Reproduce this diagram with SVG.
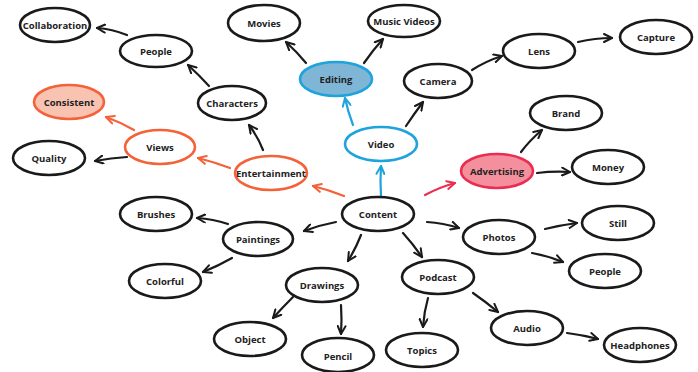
<svg xmlns="http://www.w3.org/2000/svg" width="698" height="372" viewBox="0 0 698 372">
<style>
.n ellipse{fill:#fff;stroke:#1a1a1a;stroke-width:2.6}
.n text{font-family:"Open Sans","Liberation Sans",sans-serif;font-weight:700;font-size:9.5px;fill:#222;text-anchor:middle;dominant-baseline:central}
.c path{fill:none;stroke-width:2.2;stroke-linecap:round}
.k{stroke:#1a1a1a;marker-end:url(#ak)}
.o{stroke:#f4623a;marker-end:url(#ao)}
.b{stroke:#1ea3dc;marker-end:url(#ab)}
.p{stroke:#ec2d52;marker-end:url(#ap)}
</style>
<defs>
<marker id="ak" viewBox="0 0 10 10" refX="9" refY="5" markerWidth="10" markerHeight="10" markerUnits="userSpaceOnUse" orient="auto"><path d="M1,1 L9,5 L1,9" fill="none" stroke="#1a1a1a" stroke-width="2" stroke-linecap="round" stroke-linejoin="round"/></marker>
<marker id="ao" viewBox="0 0 10 10" refX="9" refY="5" markerWidth="10" markerHeight="10" markerUnits="userSpaceOnUse" orient="auto"><path d="M1,1 L9,5 L1,9" fill="none" stroke="#f4623a" stroke-width="2" stroke-linecap="round" stroke-linejoin="round"/></marker>
<marker id="ab" viewBox="0 0 10 10" refX="9" refY="5" markerWidth="10" markerHeight="10" markerUnits="userSpaceOnUse" orient="auto"><path d="M1,1 L9,5 L1,9" fill="none" stroke="#1ea3dc" stroke-width="2" stroke-linecap="round" stroke-linejoin="round"/></marker>
<marker id="ap" viewBox="0 0 10 10" refX="9" refY="5" markerWidth="10" markerHeight="10" markerUnits="userSpaceOnUse" orient="auto"><path d="M1,1 L9,5 L1,9" fill="none" stroke="#ec2d52" stroke-width="2" stroke-linecap="round" stroke-linejoin="round"/></marker>
</defs>
<rect width="698" height="372" fill="#fff"/>
<g id="connectors" class="c">
<path class="k" d="M127,35 Q112,29 97,28"/>
<path class="k" d="M209,86 Q199,75 188,65"/>
<path class="o" d="M134,130 Q120,122 106,117"/>
<path class="k" d="M127,157 Q111,158 95,161"/>
<path class="o" d="M230,168 Q214,162 198,158"/>
<path class="k" d="M263,150 Q258,137 249,125"/>
<path class="k" d="M306,63 Q297,52 286,42"/>
<path class="k" d="M364,63 Q373,50 383,39"/>
<path class="b" d="M353,125 Q348,112 345,98"/>
<path class="k" d="M406,126 Q414,114 423,102"/>
<path class="b" d="M381,196 Q380,181 381,166"/>
<path class="o" d="M344,196 Q329,190 313,186"/>
<path class="p" d="M425,195 Q440,187 455,183"/>
<path class="k" d="M472,70 Q486,61 502,56"/>
<path class="k" d="M578,42 Q595,38 612,38"/>
<path class="k" d="M521,152 Q530,140 542,130"/>
<path class="k" d="M537,173 Q553,171 570,172"/>
<path class="k" d="M336,222 Q320,225 304,231"/>
<path class="k" d="M228,224 Q213,219 197,218"/>
<path class="k" d="M232,258 Q218,266 203,272"/>
<path class="k" d="M361,235 Q356,248 348,261"/>
<path class="k" d="M293,297 Q283,307 273,318"/>
<path class="k" d="M341,305 Q342,320 341,334"/>
<path class="k" d="M427,222 Q443,223 459,228"/>
<path class="k" d="M403,233 Q413,244 422,257"/>
<path class="k" d="M545,229 Q561,225 577,223"/>
<path class="k" d="M532,253 Q548,256 563,262"/>
<path class="k" d="M428,298 Q424,312 423,327"/>
<path class="k" d="M473,293 Q486,302 498,312"/>
<path class="k" d="M567,333 Q583,335 598,339"/>
</g>
<g id="collaboration" class="n"><ellipse cx="55" cy="25" rx="35" ry="17"/><text x="55" y="25">Collaboration</text></g>
<g id="people-top" class="n"><ellipse cx="156" cy="51" rx="36" ry="16"/><text x="156" y="51">People</text></g>
<g id="characters" class="n"><ellipse cx="232" cy="103" rx="34" ry="17"/><text x="232" y="103">Characters</text></g>
<g id="consistent" class="n"><ellipse cx="69" cy="102" rx="35" ry="17" style="fill:#f9c3b2;stroke:#f4623a"/><text x="69" y="102">Consistent</text></g>
<g id="views" class="n"><ellipse cx="160" cy="147" rx="35" ry="17" style="stroke:#f4623a"/><text x="160" y="147">Views</text></g>
<g id="quality" class="n"><ellipse cx="49" cy="158" rx="36" ry="17"/><text x="49" y="158">Quality</text></g>
<g id="movies" class="n"><ellipse cx="264" cy="23" rx="36" ry="18"/><text x="264" y="23">Movies</text></g>
<g id="music-videos" class="n"><ellipse cx="404" cy="21" rx="36" ry="16"/><text x="404" y="21">Music Videos</text></g>
<g id="editing" class="n"><ellipse cx="336" cy="79" rx="36" ry="17" style="fill:#7fb5d5;stroke:#1ea3dc"/><text x="336" y="79">Editing</text></g>
<g id="camera" class="n"><ellipse cx="438" cy="81" rx="34" ry="17"/><text x="438" y="81">Camera</text></g>
<g id="video" class="n"><ellipse cx="381" cy="144" rx="36" ry="17" style="stroke:#1ea3dc"/><text x="381" y="144">Video</text></g>
<g id="entertainment" class="n"><ellipse cx="271" cy="173" rx="36" ry="17" style="stroke:#f4623a"/><text x="271" y="173">Entertainment</text></g>
<g id="lens" class="n"><ellipse cx="539" cy="51" rx="36" ry="17"/><text x="539" y="51">Lens</text></g>
<g id="capture" class="n"><ellipse cx="656" cy="37" rx="36" ry="17"/><text x="656" y="37">Capture</text></g>
<g id="brand" class="n"><ellipse cx="566" cy="113" rx="36" ry="17"/><text x="566" y="113">Brand</text></g>
<g id="advertising" class="n"><ellipse cx="497" cy="171" rx="36" ry="17" style="fill:#f4909e;stroke:#ec2d52"/><text x="497" y="171">Advertising</text></g>
<g id="money" class="n"><ellipse cx="608" cy="167" rx="36" ry="17"/><text x="608" y="167">Money</text></g>
<g id="content" class="n"><ellipse cx="378" cy="214" rx="36" ry="17"/><text x="378" y="214">Content</text></g>
<g id="brushes" class="n"><ellipse cx="156" cy="214" rx="36" ry="17"/><text x="156" y="214">Brushes</text></g>
<g id="paintings" class="n"><ellipse cx="258" cy="239" rx="35" ry="17"/><text x="258" y="239">Paintings</text></g>
<g id="colorful" class="n"><ellipse cx="165" cy="281" rx="36" ry="17"/><text x="165" y="281">Colorful</text></g>
<g id="drawings" class="n"><ellipse cx="322" cy="285" rx="36" ry="17"/><text x="322" y="285">Drawings</text></g>
<g id="object" class="n"><ellipse cx="250" cy="339" rx="36" ry="17"/><text x="250" y="339">Object</text></g>
<g id="pencil" class="n"><ellipse cx="338" cy="355" rx="36" ry="17"/><text x="338" y="356">Pencil</text></g>
<g id="photos" class="n"><ellipse cx="499" cy="237" rx="36" ry="17"/><text x="499" y="237">Photos</text></g>
<g id="still" class="n"><ellipse cx="618" cy="223" rx="36" ry="17"/><text x="618" y="223">Still</text></g>
<g id="people-right" class="n"><ellipse cx="605" cy="271" rx="36" ry="17"/><text x="605" y="271">People</text></g>
<g id="podcast" class="n"><ellipse cx="438" cy="277" rx="36" ry="17"/><text x="438" y="277">Podcast</text></g>
<g id="audio" class="n"><ellipse cx="527" cy="328" rx="36" ry="17"/><text x="527" y="328">Audio</text></g>
<g id="headphones" class="n"><ellipse cx="640" cy="345" rx="36" ry="17"/><text x="640" y="345">Headphones</text></g>
<g id="topics" class="n"><ellipse cx="422" cy="350" rx="36" ry="17"/><text x="422" y="350">Topics</text></g>
</svg>
